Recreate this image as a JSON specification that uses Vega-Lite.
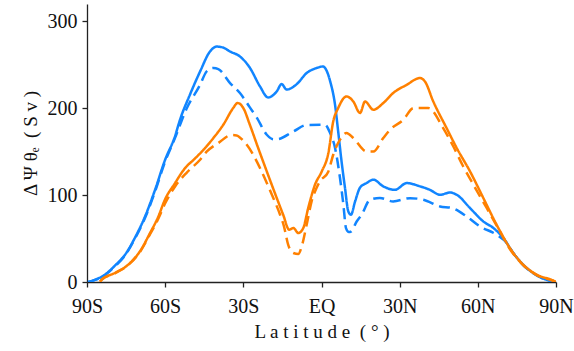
{
  "$schema": "https://vega.github.io/schema/vega-lite/v6.json",
  "width": 469,
  "height": 278,
  "autosize": {"type": "none"},
  "padding": {"left": 87, "top": 4, "right": 18, "bottom": 69},
  "background": "white",
  "config": {
    "view": {"stroke": null},
    "axis": {
      "grid": false,
      "domainColor": "#222",
      "domainWidth": 1.3,
      "tickColor": "#222",
      "tickWidth": 1.3,
      "tickSize": 5,
      "labelFont": "Liberation Serif",
      "labelFontSize": 20,
      "labelColor": "#111",
      "titleFont": "Liberation Serif",
      "titleFontSize": 19,
      "titleFontWeight": "normal",
      "titleColor": "#111"
    }
  },
  "data": {
    "values": [
      {"lat": -89.6, "v": 0, "c": "b", "d": "s"},
      {"lat": -86.9, "v": 2.6, "c": "b", "d": "s"},
      {"lat": -83.1, "v": 8.4, "c": "b", "d": "s"},
      {"lat": -79.3, "v": 18.8, "c": "b", "d": "s"},
      {"lat": -75.4, "v": 31.4, "c": "b", "d": "s"},
      {"lat": -71.6, "v": 50.9, "c": "b", "d": "s"},
      {"lat": -67.7, "v": 75.5, "c": "b", "d": "s"},
      {"lat": -63.9, "v": 105.9, "c": "b", "d": "s"},
      {"lat": -60.1, "v": 140, "c": "b", "d": "s"},
      {"lat": -56.2, "v": 168, "c": "b", "d": "s"},
      {"lat": -54.3, "v": 186.8, "c": "b", "d": "s"},
      {"lat": -50.5, "v": 215.6, "c": "b", "d": "s"},
      {"lat": -46.6, "v": 242.3, "c": "b", "d": "s"},
      {"lat": -42.8, "v": 265.3, "c": "b", "d": "s"},
      {"lat": -40.2, "v": 271, "c": "b", "d": "s"},
      {"lat": -37.8, "v": 269.9, "c": "b", "d": "s"},
      {"lat": -35.1, "v": 265.3, "c": "b", "d": "s"},
      {"lat": -31.3, "v": 259.6, "c": "b", "d": "s"},
      {"lat": -27.5, "v": 246.6, "c": "b", "d": "s"},
      {"lat": -23.6, "v": 225.1, "c": "b", "d": "s"},
      {"lat": -20.5, "v": 212.4, "c": "b", "d": "s"},
      {"lat": -17.2, "v": 219.3, "c": "b", "d": "s"},
      {"lat": -15.3, "v": 227.8, "c": "b", "d": "s"},
      {"lat": -13.4, "v": 221.5, "c": "b", "d": "s"},
      {"lat": -9.5, "v": 227.8, "c": "b", "d": "s"},
      {"lat": -5.7, "v": 240.5, "c": "b", "d": "s"},
      {"lat": -1.9, "v": 246.3, "c": "b", "d": "s"},
      {"lat": 0.6, "v": 248.1, "c": "b", "d": "s"},
      {"lat": 2.0, "v": 243, "c": "b", "d": "s"},
      {"lat": 3.3, "v": 231.3, "c": "b", "d": "s"},
      {"lat": 5.2, "v": 203.9, "c": "b", "d": "s"},
      {"lat": 6.4, "v": 173.3, "c": "b", "d": "s"},
      {"lat": 7.7, "v": 138.7, "c": "b", "d": "s"},
      {"lat": 9.0, "v": 108.7, "c": "b", "d": "s"},
      {"lat": 10.3, "v": 81.2, "c": "b", "d": "s"},
      {"lat": 11.3, "v": 77.4, "c": "b", "d": "s"},
      {"lat": 12.9, "v": 92.8, "c": "b", "d": "s"},
      {"lat": 14.8, "v": 108.7, "c": "b", "d": "s"},
      {"lat": 17.3, "v": 113.9, "c": "b", "d": "s"},
      {"lat": 19.9, "v": 117.8, "c": "b", "d": "s"},
      {"lat": 23.7, "v": 110.1, "c": "b", "d": "s"},
      {"lat": 28.2, "v": 106.1, "c": "b", "d": "s"},
      {"lat": 32.7, "v": 113.9, "c": "b", "d": "s"},
      {"lat": 37.8, "v": 110.1, "c": "b", "d": "s"},
      {"lat": 41.6, "v": 106.1, "c": "b", "d": "s"},
      {"lat": 45.5, "v": 100.4, "c": "b", "d": "s"},
      {"lat": 49.3, "v": 103, "c": "b", "d": "s"},
      {"lat": 51.9, "v": 100.4, "c": "b", "d": "s"},
      {"lat": 57.0, "v": 85.1, "c": "b", "d": "s"},
      {"lat": 62.1, "v": 69.7, "c": "b", "d": "s"},
      {"lat": 66.0, "v": 62.1, "c": "b", "d": "s"},
      {"lat": 69.8, "v": 50.6, "c": "b", "d": "s"},
      {"lat": 73.6, "v": 33.4, "c": "b", "d": "s"},
      {"lat": 77.4, "v": 19.9, "c": "b", "d": "s"},
      {"lat": 81.3, "v": 10.2, "c": "b", "d": "s"},
      {"lat": 86.4, "v": 2.6, "c": "b", "d": "s"},
      {"lat": 89.6, "v": 0.5, "c": "b", "d": "s"},

      {"lat": -89.6, "v": 0, "c": "b", "d": "d"},
      {"lat": -86.9, "v": 2.4, "c": "b", "d": "d"},
      {"lat": -83.1, "v": 8, "c": "b", "d": "d"},
      {"lat": -79.3, "v": 18, "c": "b", "d": "d"},
      {"lat": -75.4, "v": 30.5, "c": "b", "d": "d"},
      {"lat": -71.6, "v": 50, "c": "b", "d": "d"},
      {"lat": -67.7, "v": 74, "c": "b", "d": "d"},
      {"lat": -63.9, "v": 104, "c": "b", "d": "d"},
      {"lat": -60.1, "v": 138, "c": "b", "d": "d"},
      {"lat": -56.2, "v": 166, "c": "b", "d": "d"},
      {"lat": -51.7, "v": 200, "c": "b", "d": "d"},
      {"lat": -46.6, "v": 227, "c": "b", "d": "d"},
      {"lat": -44.1, "v": 242.3, "c": "b", "d": "d"},
      {"lat": -41.5, "v": 246.3, "c": "b", "d": "d"},
      {"lat": -39.6, "v": 245.1, "c": "b", "d": "d"},
      {"lat": -35.1, "v": 229, "c": "b", "d": "d"},
      {"lat": -31.3, "v": 217.5, "c": "b", "d": "d"},
      {"lat": -27.5, "v": 201, "c": "b", "d": "d"},
      {"lat": -24.9, "v": 189.6, "c": "b", "d": "d"},
      {"lat": -21.0, "v": 169.5, "c": "b", "d": "d"},
      {"lat": -18.5, "v": 164.3, "c": "b", "d": "d"},
      {"lat": -17.2, "v": 164.3, "c": "b", "d": "d"},
      {"lat": -10.8, "v": 173.3, "c": "b", "d": "d"},
      {"lat": -5.7, "v": 180.7, "c": "b", "d": "d"},
      {"lat": 1.3, "v": 181, "c": "b", "d": "d"},
      {"lat": 3.3, "v": 171.5, "c": "b", "d": "d"},
      {"lat": 5.2, "v": 154.2, "c": "b", "d": "d"},
      {"lat": 7.1, "v": 119.7, "c": "b", "d": "d"},
      {"lat": 8.4, "v": 89, "c": "b", "d": "d"},
      {"lat": 9.4, "v": 62.1, "c": "b", "d": "d"},
      {"lat": 10.5, "v": 57.5, "c": "b", "d": "d"},
      {"lat": 11.3, "v": 58, "c": "b", "d": "d"},
      {"lat": 13.5, "v": 69.7, "c": "b", "d": "d"},
      {"lat": 15.4, "v": 77.4, "c": "b", "d": "d"},
      {"lat": 18.6, "v": 94.7, "c": "b", "d": "d"},
      {"lat": 22.4, "v": 96.7, "c": "b", "d": "d"},
      {"lat": 27.5, "v": 92.8, "c": "b", "d": "d"},
      {"lat": 34.0, "v": 96.5, "c": "b", "d": "d"},
      {"lat": 39.1, "v": 94.7, "c": "b", "d": "d"},
      {"lat": 45.5, "v": 87, "c": "b", "d": "d"},
      {"lat": 50.0, "v": 85.2, "c": "b", "d": "d"},
      {"lat": 55.7, "v": 75.5, "c": "b", "d": "d"},
      {"lat": 60.8, "v": 64, "c": "b", "d": "d"},
      {"lat": 67.2, "v": 54.4, "c": "b", "d": "d"},
      {"lat": 71.1, "v": 44.9, "c": "b", "d": "d"},
      {"lat": 73.6, "v": 33.4, "c": "b", "d": "d"},
      {"lat": 77.4, "v": 19.5, "c": "b", "d": "d"},
      {"lat": 81.3, "v": 10, "c": "b", "d": "d"},
      {"lat": 86.4, "v": 2.4, "c": "b", "d": "d"},
      {"lat": 89.6, "v": 0.5, "c": "b", "d": "d"},

      {"lat": -85.0, "v": 0.3, "c": "o", "d": "s"},
      {"lat": -84.4, "v": 2.6, "c": "o", "d": "s"},
      {"lat": -79.3, "v": 10.4, "c": "o", "d": "s"},
      {"lat": -74.2, "v": 19.9, "c": "o", "d": "s"},
      {"lat": -69.7, "v": 35.2, "c": "o", "d": "s"},
      {"lat": -65.8, "v": 56.4, "c": "o", "d": "s"},
      {"lat": -62.6, "v": 75.5, "c": "o", "d": "s"},
      {"lat": -60.1, "v": 94.7, "c": "o", "d": "s"},
      {"lat": -56.2, "v": 113.9, "c": "o", "d": "s"},
      {"lat": -52.4, "v": 131, "c": "o", "d": "s"},
      {"lat": -48.6, "v": 142, "c": "o", "d": "s"},
      {"lat": -44.7, "v": 154.2, "c": "o", "d": "s"},
      {"lat": -41.5, "v": 165.7, "c": "o", "d": "s"},
      {"lat": -37.7, "v": 181, "c": "o", "d": "s"},
      {"lat": -33.9, "v": 200.2, "c": "o", "d": "s"},
      {"lat": -32.2, "v": 206, "c": "o", "d": "s"},
      {"lat": -30.0, "v": 200.2, "c": "o", "d": "s"},
      {"lat": -27.5, "v": 181, "c": "o", "d": "s"},
      {"lat": -24.3, "v": 154.2, "c": "o", "d": "s"},
      {"lat": -21.0, "v": 127.3, "c": "o", "d": "s"},
      {"lat": -17.9, "v": 102.4, "c": "o", "d": "s"},
      {"lat": -14.7, "v": 77.4, "c": "o", "d": "s"},
      {"lat": -12.4, "v": 60.2, "c": "o", "d": "s"},
      {"lat": -10.8, "v": 62.1, "c": "o", "d": "s"},
      {"lat": -8.9, "v": 56.4, "c": "o", "d": "s"},
      {"lat": -7.0, "v": 62.1, "c": "o", "d": "s"},
      {"lat": -5.1, "v": 85.2, "c": "o", "d": "s"},
      {"lat": -2.5, "v": 112, "c": "o", "d": "s"},
      {"lat": 0.1, "v": 127.3, "c": "o", "d": "s"},
      {"lat": 2.6, "v": 148, "c": "o", "d": "s"},
      {"lat": 4.5, "v": 184.8, "c": "o", "d": "s"},
      {"lat": 6.4, "v": 200.2, "c": "o", "d": "s"},
      {"lat": 9.6, "v": 213.6, "c": "o", "d": "s"},
      {"lat": 12.2, "v": 207.8, "c": "o", "d": "s"},
      {"lat": 14.8, "v": 194.5, "c": "o", "d": "s"},
      {"lat": 16.7, "v": 207.8, "c": "o", "d": "s"},
      {"lat": 19.9, "v": 198.3, "c": "o", "d": "s"},
      {"lat": 23.7, "v": 206, "c": "o", "d": "s"},
      {"lat": 27.5, "v": 217.5, "c": "o", "d": "s"},
      {"lat": 32.7, "v": 227, "c": "o", "d": "s"},
      {"lat": 37.8, "v": 234.8, "c": "o", "d": "s"},
      {"lat": 39.7, "v": 230.8, "c": "o", "d": "s"},
      {"lat": 42.9, "v": 207.8, "c": "o", "d": "s"},
      {"lat": 48.0, "v": 177.2, "c": "o", "d": "s"},
      {"lat": 51.9, "v": 154.2, "c": "o", "d": "s"},
      {"lat": 57.0, "v": 127.3, "c": "o", "d": "s"},
      {"lat": 62.1, "v": 96.7, "c": "o", "d": "s"},
      {"lat": 67.2, "v": 65.9, "c": "o", "d": "s"},
      {"lat": 72.3, "v": 39.1, "c": "o", "d": "s"},
      {"lat": 77.4, "v": 19.9, "c": "o", "d": "s"},
      {"lat": 82.6, "v": 8.4, "c": "o", "d": "s"},
      {"lat": 89.0, "v": 1.5, "c": "o", "d": "s"},
      {"lat": 89.9, "v": 0, "c": "o", "d": "s"},

      {"lat": -85.0, "v": 0.3, "c": "o", "d": "d"},
      {"lat": -84.4, "v": 2.4, "c": "o", "d": "d"},
      {"lat": -79.3, "v": 10, "c": "o", "d": "d"},
      {"lat": -74.2, "v": 19.5, "c": "o", "d": "d"},
      {"lat": -69.7, "v": 34.5, "c": "o", "d": "d"},
      {"lat": -65.8, "v": 55, "c": "o", "d": "d"},
      {"lat": -62.6, "v": 73, "c": "o", "d": "d"},
      {"lat": -60.1, "v": 90, "c": "o", "d": "d"},
      {"lat": -56.2, "v": 110, "c": "o", "d": "d"},
      {"lat": -51.7, "v": 126, "c": "o", "d": "d"},
      {"lat": -46.6, "v": 140.7, "c": "o", "d": "d"},
      {"lat": -44.1, "v": 150, "c": "o", "d": "d"},
      {"lat": -39.6, "v": 160, "c": "o", "d": "d"},
      {"lat": -34.5, "v": 169.2, "c": "o", "d": "d"},
      {"lat": -32.6, "v": 168.7, "c": "o", "d": "d"},
      {"lat": -30.0, "v": 162.6, "c": "o", "d": "d"},
      {"lat": -26.2, "v": 146.5, "c": "o", "d": "d"},
      {"lat": -23.6, "v": 131.2, "c": "o", "d": "d"},
      {"lat": -20.4, "v": 110, "c": "o", "d": "d"},
      {"lat": -18.5, "v": 96.7, "c": "o", "d": "d"},
      {"lat": -15.9, "v": 77.4, "c": "o", "d": "d"},
      {"lat": -14.4, "v": 64, "c": "o", "d": "d"},
      {"lat": -12.8, "v": 42.9, "c": "o", "d": "d"},
      {"lat": -10.8, "v": 33.4, "c": "o", "d": "d"},
      {"lat": -8.9, "v": 32.2, "c": "o", "d": "d"},
      {"lat": -7.6, "v": 41, "c": "o", "d": "d"},
      {"lat": -5.7, "v": 65.9, "c": "o", "d": "d"},
      {"lat": -3.8, "v": 92.8, "c": "o", "d": "d"},
      {"lat": -1.9, "v": 108.2, "c": "o", "d": "d"},
      {"lat": -0.6, "v": 115.8, "c": "o", "d": "d"},
      {"lat": 2.6, "v": 127, "c": "o", "d": "d"},
      {"lat": 4.5, "v": 146.5, "c": "o", "d": "d"},
      {"lat": 7.1, "v": 163.8, "c": "o", "d": "d"},
      {"lat": 9.6, "v": 171.5, "c": "o", "d": "d"},
      {"lat": 12.2, "v": 165.7, "c": "o", "d": "d"},
      {"lat": 17.3, "v": 150.3, "c": "o", "d": "d"},
      {"lat": 19.9, "v": 150.3, "c": "o", "d": "d"},
      {"lat": 23.7, "v": 165.7, "c": "o", "d": "d"},
      {"lat": 26.3, "v": 175.3, "c": "o", "d": "d"},
      {"lat": 31.4, "v": 186.8, "c": "o", "d": "d"},
      {"lat": 35.3, "v": 200.2, "c": "o", "d": "d"},
      {"lat": 41.0, "v": 200.2, "c": "o", "d": "d"},
      {"lat": 46.7, "v": 177.2, "c": "o", "d": "d"},
      {"lat": 50.6, "v": 156, "c": "o", "d": "d"},
      {"lat": 54.4, "v": 133, "c": "o", "d": "d"},
      {"lat": 58.3, "v": 112, "c": "o", "d": "d"},
      {"lat": 63.4, "v": 85.2, "c": "o", "d": "d"},
      {"lat": 68.5, "v": 58.2, "c": "o", "d": "d"},
      {"lat": 72.3, "v": 38, "c": "o", "d": "d"},
      {"lat": 77.4, "v": 19.5, "c": "o", "d": "d"},
      {"lat": 82.6, "v": 8, "c": "o", "d": "d"},
      {"lat": 89.0, "v": 1.2, "c": "o", "d": "d"},
      {"lat": 89.9, "v": 0, "c": "o", "d": "d"}
    ]
  },
  "mark": {"type": "line", "interpolate": "monotone", "strokeWidth": 2.5, "clip": true},
  "encoding": {
    "x": {
      "field": "lat",
      "type": "quantitative",
      "scale": {"domain": [-90, 90], "nice": false},
      "axis": {
        "values": [-90, -60, -30, 0, 30, 60, 90],
        "labelExpr": "datum.value == 0 ? 'EQ' : (datum.value < 0 ? (-datum.value) + 'S' : datum.value + 'N')",
        "labelPadding": 9,
        "labelFlush": false,
        "labelOverlap": false,
        "title": "L a t i t u d e \u00a0( ° )",
        "titlePadding": 6
      }
    },
    "y": {
      "field": "v",
      "type": "quantitative",
      "scale": {"domain": [0, 320], "nice": false},
      "axis": {
        "values": [0, 100, 200, 300],
        "labelPadding": 5,
        "labelFlush": false,
        "title": "Δ Ψ θₑ \u00a0( S v )",
        "titlePadding": 7
      }
    },
    "color": {
      "field": "c",
      "type": "nominal",
      "scale": {"domain": ["b", "o"], "range": ["#1185ff", "#ff8000"]},
      "legend": null
    },
    "strokeDash": {
      "field": "d",
      "type": "nominal",
      "scale": {"domain": ["s", "d"], "range": [[1, 0], [11, 6]]},
      "legend": null
    },
    "order": {"field": "lat", "type": "quantitative"}
  }
}
